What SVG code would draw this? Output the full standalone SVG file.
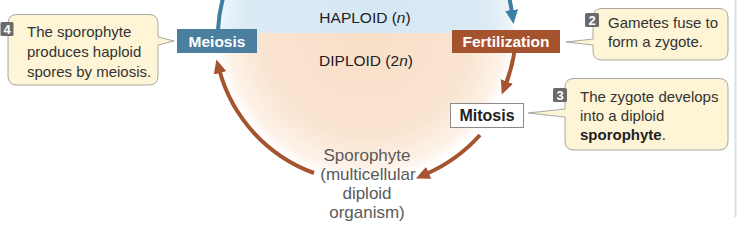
<svg xmlns="http://www.w3.org/2000/svg" width="738" height="228" viewBox="0 0 738 228">
  <style>
    .t { font-family: "Liberation Sans", Arial, sans-serif; }
    .call { fill: #fdf5d6; stroke: #a8a8a0; stroke-width: 1; }
    .ctext { font-size: 15px; fill: #333; }
    .badge { fill: #6a6a6a; }
    .btext { font-size: 13px; font-weight: bold; fill: #fff; }
    .box-label { font-size: 15.5px; font-weight: bold; fill: #fff; }
    .brown { fill: none; stroke: #a5542f; stroke-width: 4; }
    .blue { fill: none; stroke: #3f7ea3; stroke-width: 4; }
  </style>
  <defs>
    <radialGradient id="gPeach" gradientUnits="userSpaceOnUse" cx="366" cy="30" r="150">
      <stop offset="0" stop-color="#f8dec7"/>
      <stop offset="0.72" stop-color="#fae5d2"/>
      <stop offset="0.92" stop-color="#fdf2e8"/>
      <stop offset="1" stop-color="#ffffff"/>
    </radialGradient>
    <radialGradient id="gBlue" gradientUnits="userSpaceOnUse" cx="366" cy="30" r="150">
      <stop offset="0" stop-color="#d6e8f4"/>
      <stop offset="0.8" stop-color="#dbeaf5"/>
      <stop offset="0.95" stop-color="#eaf3f9"/>
      <stop offset="1" stop-color="#ffffff"/>
    </radialGradient>
    <clipPath id="clipTop"><rect x="0" y="0" width="738" height="33"/></clipPath>
    <clipPath id="clipBot"><rect x="0" y="33" width="738" height="195"/></clipPath>
    <marker id="ahBrown" markerUnits="userSpaceOnUse" markerWidth="15" markerHeight="14" refX="3" refY="6.5" orient="auto">
      <path d="M0,0 L14,6.5 L0,13 z" fill="#a5542f"/>
    </marker>
    <marker id="ahBlue" markerUnits="userSpaceOnUse" markerWidth="15" markerHeight="14" refX="3" refY="6.5" orient="auto">
      <path d="M0,0 L14,6.5 L0,13 z" fill="#3f7ea3"/>
    </marker>
  </defs>

  <!-- background regions -->
  <g id="regions">
    <circle cx="366" cy="30" r="150" fill="url(#gPeach)" clip-path="url(#clipBot)"/>
    <circle cx="366" cy="30" r="150" fill="url(#gBlue)" clip-path="url(#clipTop)"/>
    <line x1="735.5" y1="0" x2="735.5" y2="217" stroke="#cfe4ef" stroke-width="2"/>
  </g>

  <g id="region-labels" class="t">
    <text x="365" y="23" text-anchor="middle" font-size="15.5" fill="#222">HAPLOID (<tspan font-style="italic">n</tspan>)</text>
    <text x="366" y="66" text-anchor="middle" font-size="15.5" fill="#222">DIPLOID (2<tspan font-style="italic">n</tspan>)</text>
  </g>

  <!-- connectors -->
  <g id="connectors">
    <path class="blue" d="M 223 -2 A 152 152 0 0 0 218 30"/>
    <path class="blue" d="M 509 -3 A 147 147 0 0 1 512 13" marker-end="url(#ahBlue)"/>
    <path class="brown" d="M 514.5 51 A 150 150 0 0 1 505.8 84.3" marker-end="url(#ahBrown)"/>
    <path class="brown" d="M 480 135 A 156 156 0 0 1 426 174" marker-end="url(#ahBrown)"/>
    <path class="brown" d="M 314 173 A 152 152 0 0 1 219.3 70" marker-end="url(#ahBrown)"/>
  </g>

  <!-- nodes -->
  <g id="node-meiosis" class="t">
    <rect x="177" y="29" width="80" height="24" fill="#4a7fa0"/>
    <text class="box-label" x="217" y="47" text-anchor="middle">Meiosis</text>
  </g>
  <g id="node-fertilization" class="t">
    <rect x="452" y="30" width="108" height="23" fill="#a5532f"/>
    <text class="box-label" x="506" y="47" text-anchor="middle">Fertilization</text>
  </g>
  <g id="node-mitosis" class="t">
    <rect x="450.5" y="103.5" width="73" height="24" fill="#ffffff" stroke="#8a8a8a" stroke-width="1"/>
    <text x="487" y="121" text-anchor="middle" font-size="16" font-weight="bold" fill="#222">Mitosis</text>
  </g>
  <g id="node-sporophyte" class="t">
    <text x="367" y="161" text-anchor="middle" font-size="17" fill="#5a5a5a">Sporophyte</text>
    <text x="368" y="180" text-anchor="middle" font-size="17" fill="#5a5a5a">(multicellular</text>
    <text x="367" y="199" text-anchor="middle" font-size="17" fill="#5a5a5a">diploid</text>
    <text x="367" y="218" text-anchor="middle" font-size="17" fill="#5a5a5a">organism)</text>
  </g>

  <!-- callouts -->
  <g id="callout-4" class="t">
    <path class="call" d="M 17 14.5 H 149 Q 158 14.5 158 23.5 V 37 L 174 41 L 158 45 V 76 Q 158 85 149 85 H 17 Q 8 85 8 76 V 23.5 Q 8 14.5 17 14.5 Z"/>
    <rect class="badge" x="0.5" y="22" width="13" height="14" rx="1.5"/>
    <text class="btext" x="7" y="34" text-anchor="middle">4</text>
    <text class="ctext" x="27" y="37">The sporophyte</text>
    <text class="ctext" x="27" y="57">produces haploid</text>
    <text class="ctext" x="27" y="77">spores by meiosis.</text>
  </g>
  <g id="callout-2" class="t">
    <path class="call" d="M 602 8.5 H 719 Q 728 8.5 728 17.5 V 51 Q 728 60 719 60 H 602 Q 593 60 593 51 V 45 L 566 42 L 593 39 V 17.5 Q 593 8.5 602 8.5 Z"/>
    <rect class="badge" x="585" y="13" width="14" height="14" rx="1.5"/>
    <text class="btext" x="592" y="25" text-anchor="middle">2</text>
    <text class="ctext" x="608" y="28">Gametes fuse to</text>
    <text class="ctext" x="608" y="47">form a zygote.</text>
  </g>
  <g id="callout-3" class="t">
    <path class="call" d="M 574 78.5 H 719 Q 728 78.5 728 87.5 V 141 Q 728 150 719 150 H 574 Q 565 150 565 141 V 117 L 528 113 L 565 109 V 87.5 Q 565 78.5 574 78.5 Z"/>
    <rect class="badge" x="553" y="88" width="14" height="14" rx="1.5"/>
    <text class="btext" x="560" y="100" text-anchor="middle">3</text>
    <text class="ctext" x="580" y="102">The zygote develops</text>
    <text class="ctext" x="580" y="121">into a diploid</text>
    <text class="ctext" x="580" y="140"><tspan font-weight="bold" fill="#222">sporophyte</tspan>.</text>
  </g>
</svg>
